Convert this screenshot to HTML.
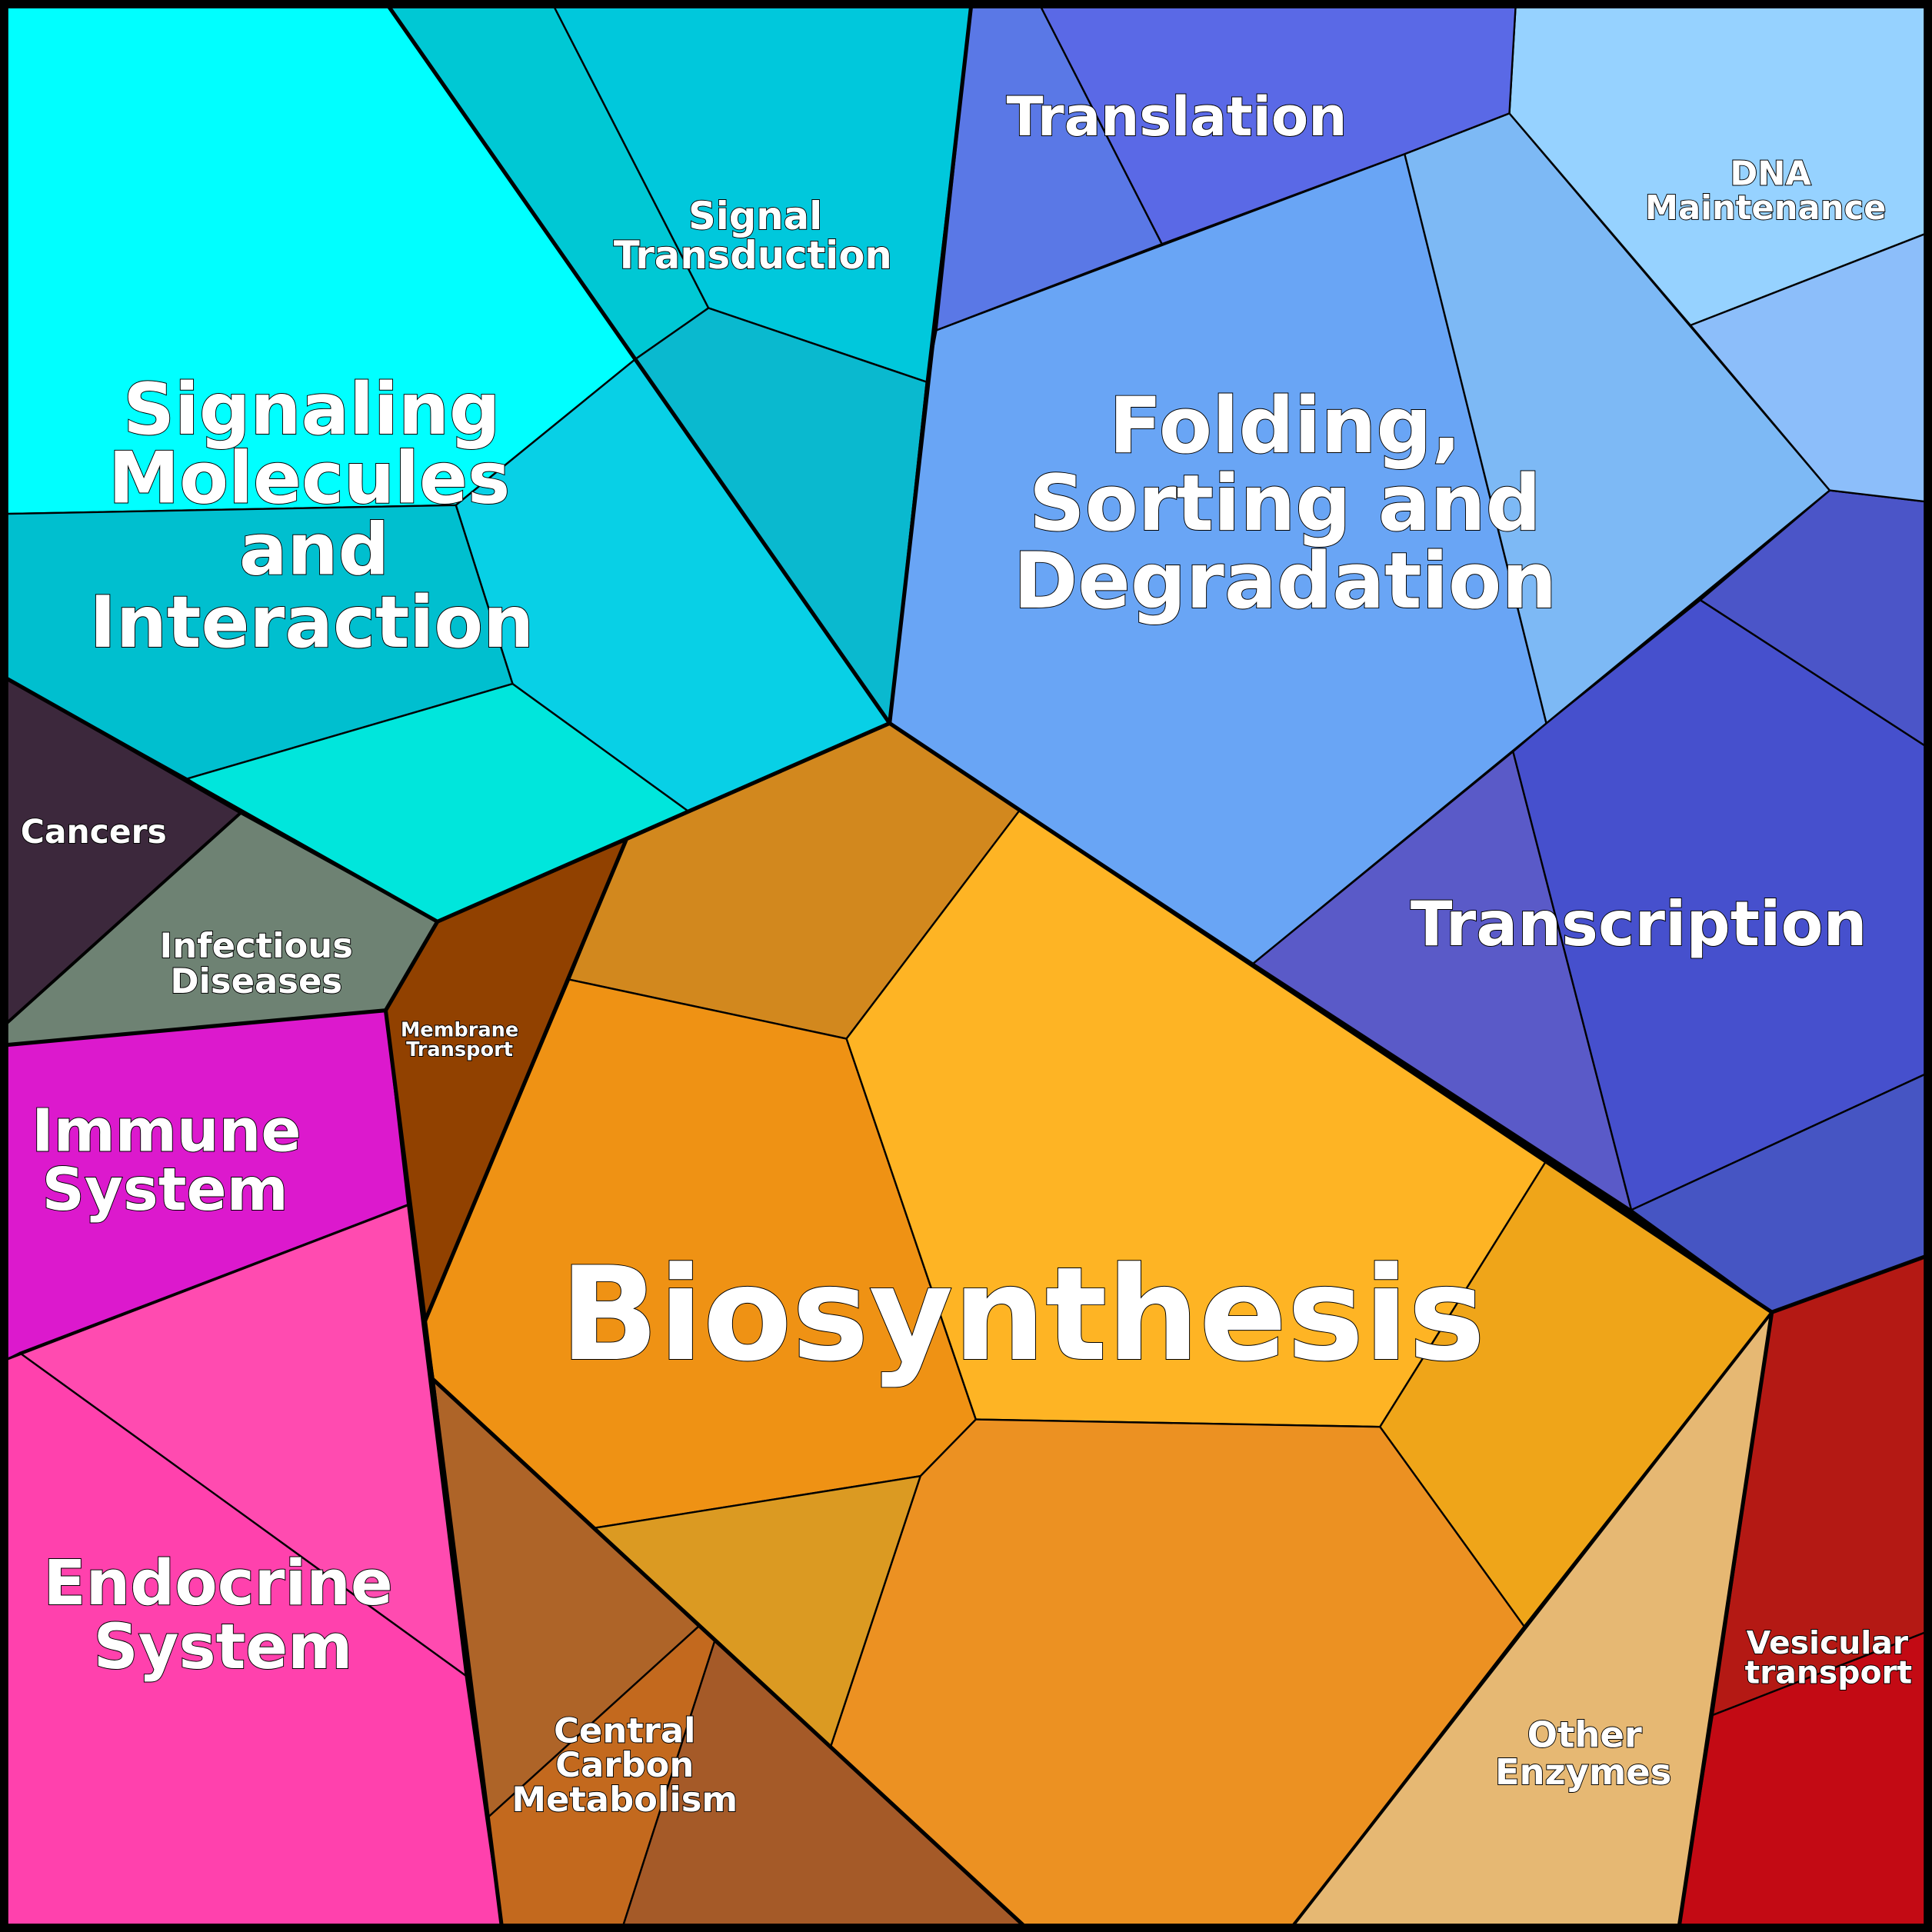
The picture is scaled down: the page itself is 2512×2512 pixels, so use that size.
<!DOCTYPE html>
<html><head><meta charset="utf-8"><style>
html,body{margin:0;padding:0;background:#000;}
svg{display:block;}
text{font-family:"DejaVu Sans","Liberation Sans",sans-serif;font-weight:bold;fill:#fff;stroke:#000;stroke-width:1.2;paint-order:stroke;text-anchor:middle;}
</style></head><body>
<svg width="2512" height="2512" viewBox="0 0 1568 1568" xmlns="http://www.w3.org/2000/svg">
<rect x="0" y="0" width="1568" height="1568" fill="#000"/>
<g stroke="#000" stroke-width="1.5" stroke-linejoin="round">
<polygon fill="#00ffff" points="6,6 316,6 515,292 370,410 6,417"/>
<polygon fill="#00c8d4" points="316,6 450,6 575,250 515,292"/>
<polygon fill="#00c8dc" points="450,6 788,6 752,310 575,250"/>
<polygon fill="#0ab9cf" points="575,250 752,310 722,587 515,292"/>
<polygon fill="#08d0e6" points="515,292 722,587 558,658 416,555 370,410"/>
<polygon fill="#00bfcf" points="6,417 370,410 416,555 152,632 6,551"/>
<polygon fill="#00e6dc" points="152,632 416,555 558,658 355,748 195,660"/>
<polygon fill="#3c283c" points="6,551 195,660 6,830"/>
<polygon fill="#6e8273" points="195,660 355,748 313,820 6,848 6,830"/>
<polygon fill="#dc19cd" points="6,848 313,820 331,978 6,1103"/>
<polygon fill="#ff4bb0" points="16,1098 331,978 378,1360"/>
<polygon fill="#ff41ad" points="6,1103 16,1098 378,1360 407,1562 6,1562"/>
<polygon fill="#914100" points="355,748 508,682 345,1072 313,820"/>
<polygon fill="#d2881e" points="508,682 722,587 828,657 687,843 462,795"/>
<polygon fill="#ef9214" points="462,795 687,843 792,1152 747,1198 483,1240 352,1120 345,1072"/>
<polygon fill="#feb424" points="687,843 828,657 1017,782 1255,942 1120,1158 792,1152"/>
<polygon fill="#efa519" points="1255,942 1438,1065 1237,1320 1120,1158"/>
<polygon fill="#ec9122" points="792,1152 1120,1158 1237,1320 1050,1562 830,1562 674,1418 747,1198"/>
<polygon fill="#db9a22" points="483,1240 747,1198 674,1418 567,1320"/>
<polygon fill="#ae6428" points="352,1120 567,1320 396,1475 378,1340"/>
<polygon fill="#c3691e" points="396,1475 567,1320 580,1332 506,1562 407,1562"/>
<polygon fill="#a55a28" points="580,1332 830,1562 506,1562"/>
<polygon fill="#e6b873" points="1438,1065 1363,1562 1050,1562 1237,1320"/>
<polygon fill="#b41914" points="1438,1065 1562,1020 1562,1325 1390,1392"/>
<polygon fill="#c30a14" points="1390,1392 1562,1325 1562,1562 1363,1562"/>
<polygon fill="#5a5ac8" points="1017,782 1228,610 1324,982"/>
<polygon fill="#4650cd" points="1228,610 1255,587 1380,487 1562,605 1562,872 1324,982"/>
<polygon fill="#4655c3" points="1324,982 1562,872 1562,1020 1438,1065"/>
<polygon fill="#4b55c8" points="1380,487 1485,398 1562,407 1562,605"/>
<polygon fill="#69a5f5" points="760,268 1140,125 1255,587 1017,782 722,587 752,310"/>
<polygon fill="#7db9f5" points="1140,125 1225,92 1485,398 1255,587"/>
<polygon fill="#96d2ff" points="1225,92 1230,6 1562,6 1562,190 1372,264"/>
<polygon fill="#8cbefa" points="1372,264 1562,190 1562,407 1485,398"/>
<polygon fill="#5a78e6" points="788,6 845,6 943,198 760,268"/>
<polygon fill="#5a69e6" points="845,6 1230,6 1225,92 1140,125 943,198"/>
</g>
<g stroke="#000" stroke-width="3.2" fill="none" stroke-linejoin="round" stroke-linecap="round">
<polyline points="316,6 722,587"/>
<polyline points="788,6 722,587"/>
<polyline points="722,587 1438,1065 1562,1020"/>
<polyline points="1438,1065 1363,1562"/>
<polyline points="722,587 355,748 6,551"/>
<polyline points="355,748 313,820 6,848"/>
<polyline points="313,820 407,1562"/>
<polyline points="508,682 345,1072"/>
<polyline points="352,1120 830,1562"/>
<polyline points="1050,1562 1438,1065" stroke-width="2.5"/>
<polyline points="195,660 6,830" stroke-width="2.5"/>
<polyline points="331,978 6,1103" stroke-width="2"/>
</g>
<rect x="3" y="3" width="1562" height="1562" fill="none" stroke="#000" stroke-width="7"/>
<text font-size="58" x="253" y="352">Signaling</text>
<text font-size="58" x="251" y="408">Molecules</text>
<text font-size="58" x="255" y="466">and</text>
<text font-size="58" x="253" y="525">Interaction</text>
<text font-size="31" x="613" y="186">Signal</text>
<text font-size="31" x="611" y="218">Transduction</text>
<text font-size="44" x="955" y="110">Translation</text>
<text font-size="27" x="1437" y="150">DNA</text>
<text font-size="27" x="1433" y="178">Maintenance</text>
<text font-size="63" x="1043" y="367">Folding,</text>
<text font-size="63" x="1043" y="430">Sorting and</text>
<text font-size="63" x="1043" y="493">Degradation</text>
<text font-size="50" x="1330" y="767">Transcription</text>
<text font-size="26.5" x="76" y="684">Cancers</text>
<text font-size="28" x="208" y="777">Infectious</text>
<text font-size="28" x="208" y="806">Diseases</text>
<text font-size="16" x="373" y="841">Membrane</text>
<text font-size="16" x="373" y="857">Transport</text>
<text font-size="48" x="135" y="934">Immune</text>
<text font-size="48" x="134" y="982">System</text>
<text font-size="50.5" x="177" y="1302">Endocrine</text>
<text font-size="50.5" x="181" y="1354">System</text>
<text font-size="105" x="830" y="1103">Biosynthesis</text>
<text font-size="28" x="507" y="1414">Central</text>
<text font-size="28" x="507" y="1442">Carbon</text>
<text font-size="28" x="507" y="1470">Metabolism</text>
<text font-size="29" x="1286" y="1418">Other</text>
<text font-size="29" x="1285" y="1448">Enzymes</text>
<text font-size="25.5" x="1483" y="1342">Vesicular</text>
<text font-size="25.5" x="1484" y="1366">transport</text>
</svg>
</body></html>
